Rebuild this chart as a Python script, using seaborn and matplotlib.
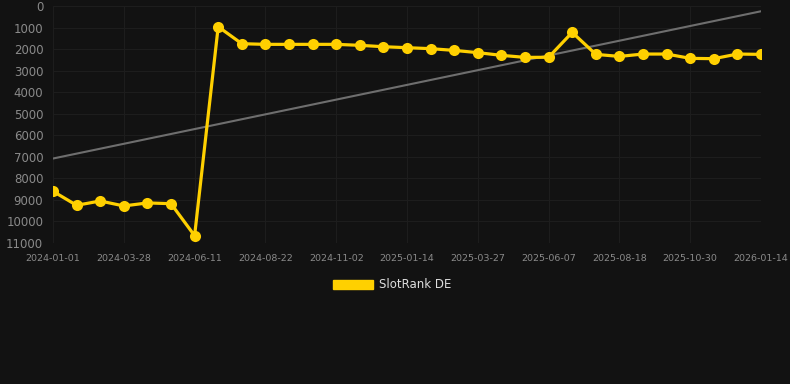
import numpy as np
import pandas as pd
import matplotlib
matplotlib.use('Agg')
import matplotlib.pyplot as plt
import matplotlib.patches as mpatches
import seaborn as sns

tick_labels = ['2024-01-01', '2024-03-28', '2024-06-11', '2024-08-22', '2024-11-02',
               '2025-01-14', '2025-03-27', '2025-06-07', '2025-08-18', '2025-10-30',
               '2026-01-14']
rank = [8600, 9250, 9050, 9280, 9140, 9175, 10660, 960, 1750, 1780,
        1780, 1780, 1780, 1825, 1890, 1935, 1980, 2060, 2165, 2290,
        2385, 2380, 1225, 2245, 2340, 2230, 2230, 2430, 2445, 2230,
        2245]
series_name = 'SlotRank DE'

df = pd.DataFrame({'idx': np.arange(len(rank)), 'rank': rank})

bg = '#121212'
sns.set_style('dark')
plt.rcParams['font.family'] = ['DejaVu Sans']

fig = plt.figure(figsize=(7.9, 3.84), dpi=100, facecolor=bg)
ax = fig.add_axes([53/790, 1-243/384, (761-53)/790, (243-6)/384])
ax.set_facecolor(bg)

# trend line
coef = np.polyfit(df['idx'], df['rank'], 1)
trend = np.polyval(coef, df['idx'])
ax.plot(df['idx'], trend, color='#6e6e6e', lw=1.5, zorder=2)

sns.lineplot(data=df, x='idx', y='rank', ax=ax, color='#FFD000', lw=2.3,
             marker='o', markersize=8, markeredgewidth=0, zorder=3, legend=False)

ax.set_xlim(0, len(rank) - 1)
ax.set_ylim(11000, 0)
ax.set_yticks(np.arange(0, 11001, 1000))
ax.set_yticklabels([str(v) for v in range(0, 11001, 1000)], fontsize=8.5, color='#8a8a8a')
ax.set_xticks(np.arange(0, len(rank), 3))
ax.set_xticklabels(tick_labels, fontsize=6.8, color='#8a8a8a')
ax.tick_params(axis='x', length=0, pad=8)
ax.tick_params(axis='y', length=0, pad=7)
ax.set_xlabel('')
ax.set_ylabel('')
ax.grid(True, color='#1d1d1d', lw=0.8)
for s in ax.spines.values():
    s.set_visible(False)

handle = mpatches.Patch(facecolor='#FFD000', edgecolor='#FFD000')
leg = fig.legend([handle], [series_name], loc='center', bbox_to_anchor=(392/790, 1-285/384),
                 frameon=False, fontsize=8.5, handlelength=3.4, handleheight=0.9,
                 handletextpad=0.5)
for t in leg.get_texts():
    t.set_color('#dddddd')

fig.savefig('out.png', dpi=100, facecolor=bg)
